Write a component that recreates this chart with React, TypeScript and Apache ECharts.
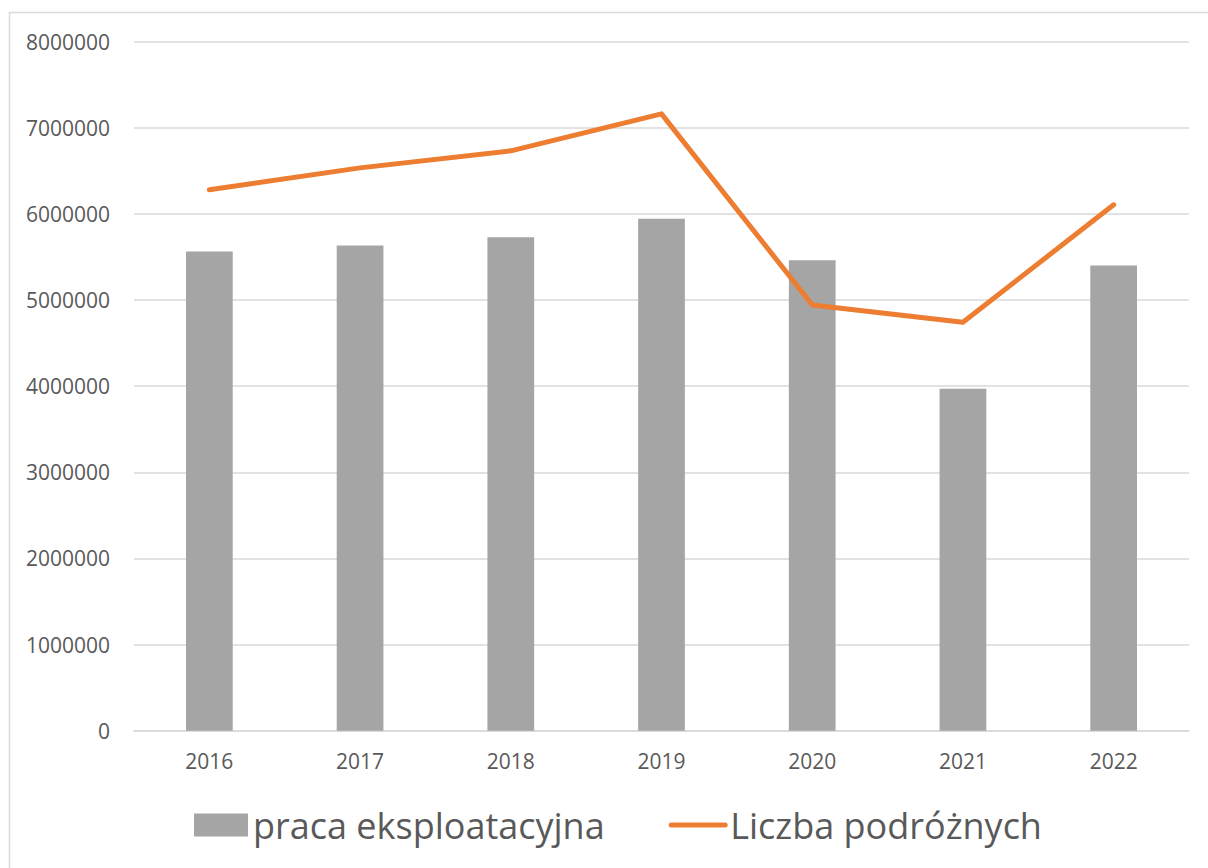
import React, { useEffect, useRef } from "react";
import * as echarts from "echarts";

const years = ["2016", "2017", "2018", "2019", "2020", "2021", "2022"];
const pracaEksploatacyjna = [5563000, 5633000, 5730000, 5943000, 5463000, 3969000, 5401000];
const liczbaPodroznych = [6280000, 6535000, 6733000, 7162000, 4944000, 4743000, 6106000];
const seriesNames = ["praca eksploatacyjna", "Liczba podróżnych"];

const FONT = "'Open Sans', 'Liberation Sans', sans-serif";
const TEXT = "#595959";
const GRID = "#D9D9D9";
const ORANGE = "#ED7D31";

export default function App() {
  const ref = useRef<HTMLDivElement>(null);
  useEffect(() => {
    if (!ref.current) return;
    const chart = echarts.init(ref.current, null, { renderer: "svg" });
    chart.setOption({
      animation: false,
      backgroundColor: "#ffffff",
      textStyle: { fontFamily: FONT, color: TEXT },
      grid: { left: 134, right: 19, top: 41.7, bottom: 137.3, containLabel: false },
      graphic: [
        {
          type: "rect",
          shape: { x: 9.5, y: 12.5, width: 1400, height: 1000 },
          style: { fill: "none", stroke: GRID, lineWidth: 1.5 },
          silent: true,
          z: -10,
        },
      ],
      legend: {
        left: 189,
        top: 802,
        itemGap: 64,
        itemWidth: 54,
        itemHeight: 23,
        textStyle: { fontFamily: FONT, fontSize: 36, color: TEXT },
        data: [
          { name: seriesNames[0], icon: "rect" },
          {
            name: seriesNames[1],
            itemStyle: { opacity: 0 },
            lineStyle: { width: 5, color: ORANGE, cap: "round" },
          },
        ],
      },
      xAxis: {
        type: "category",
        data: years,
        axisLine: { show: true, lineStyle: { color: GRID, width: 1.5 } },
        axisTick: { show: false },
        axisLabel: { color: TEXT, fontSize: 21, fontFamily: FONT, margin: 20 },
      },
      yAxis: {
        type: "value",
        min: 0,
        max: 8000000,
        interval: 1000000,
        axisLine: { show: false },
        axisTick: { show: false },
        axisLabel: {
          color: TEXT,
          fontSize: 21,
          fontFamily: FONT,
          margin: 24,
          formatter: (v: number) => String(v),
        },
        splitLine: { lineStyle: { color: GRID, width: 1.5 } },
      },
      series: [
        {
          name: seriesNames[0],
          type: "bar",
          data: pracaEksploatacyjna,
          barWidth: "31%",
          itemStyle: { color: "#A5A5A5" },
        },
        {
          name: seriesNames[1],
          type: "line",
          data: liczbaPodroznych,
          symbol: "none",
          showSymbol: false,
          lineStyle: { color: ORANGE, width: 5, cap: "round", join: "round" },
          itemStyle: { color: ORANGE },
        },
      ],
    });
    return () => chart.dispose();
  }, []);
  return (
    <div
      ref={ref}
      style={{ position: "absolute", left: 0, top: 0, width: 1208, height: 868 }}
    />
  );
}
